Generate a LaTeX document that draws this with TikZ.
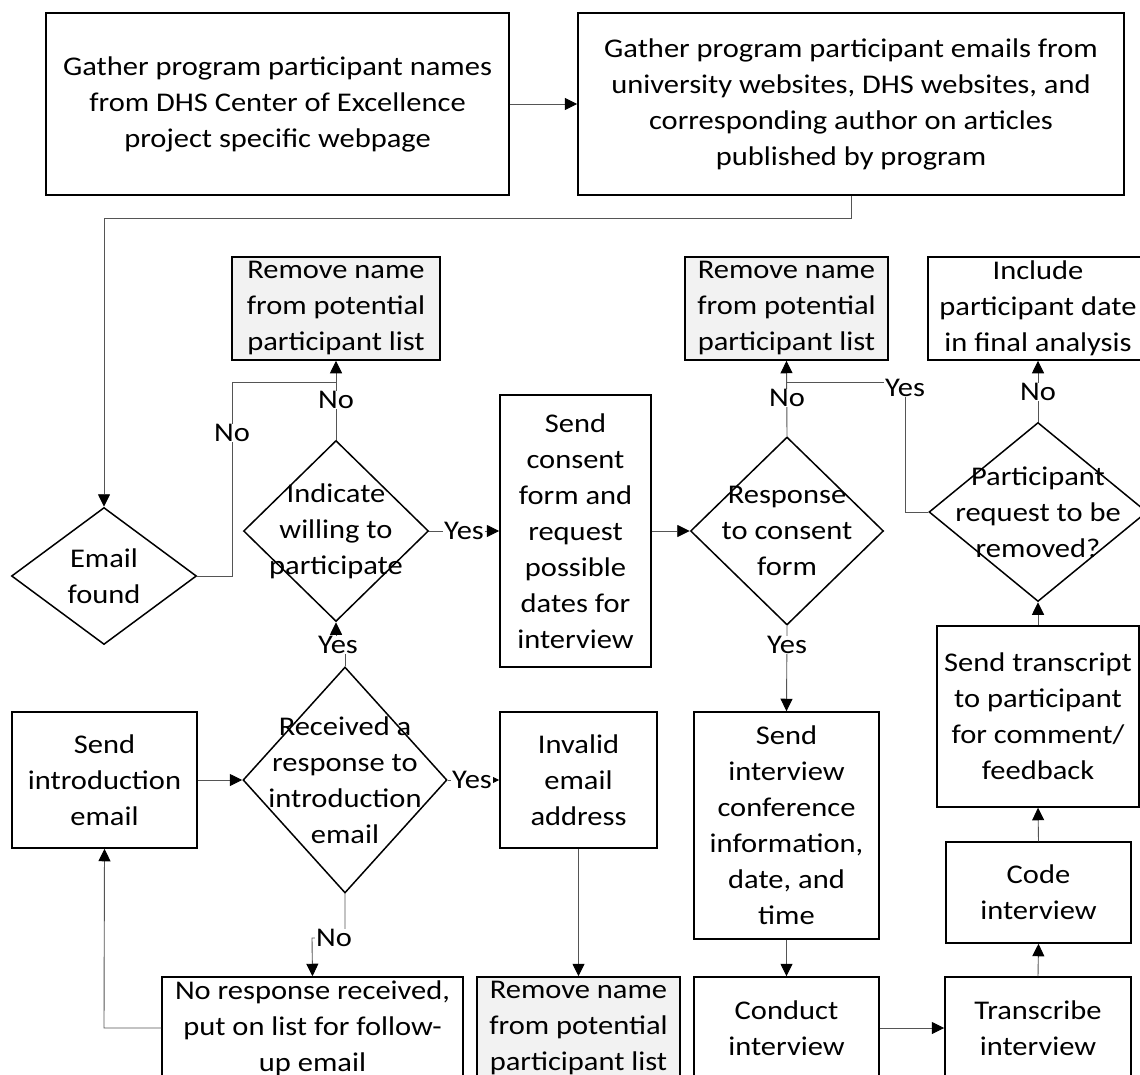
\documentclass[tikz,border=0pt]{standalone}
\usepackage{fontspec}
\setmainfont{Carlito}[FakeStretch=1.13]
\usetikzlibrary{arrows.meta,shapes.geometric}
\definecolor{boxgray}{HTML}{F2F2F2}
\definecolor{linegray}{HTML}{555555}
\begin{document}
\begin{tikzpicture}[x=1pt,y=-1pt,
  every node/.style={font=\fontsize{27}{36}\selectfont, align=center, inner sep=0pt},
  box/.style={draw=black, line width=1.5pt, rectangle},
  greybox/.style={box, fill=boxgray},
  decision/.style={draw=black, line width=1.5pt, diamond},
  txt/.style={fill=none},
  lbl/.style={fill=white, inner xsep=1pt, inner ysep=0pt},
  flow/.style={draw=linegray, line width=0.9pt, -{Triangle[length=12.5pt,width=12pt,color=black]}},
  plain/.style={draw=linegray, line width=0.9pt}]
\useasboundingbox (0,0) rectangle (1140,1075);
\clip (0,0) rectangle (1140,1075);
\fill[white] (0,0) rectangle (1140,1075);

% top row
\node[box, minimum width=463pt, minimum height=182pt] (ga) at (277.5,104)
  {Gather program participant names\\from DHS Center of Excellence\\project specific webpage};
\node[box, minimum width=546pt, minimum height=182pt] (gb) at (851,104)
  {Gather program participant emails from\\university websites, DHS websites, and\\corresponding author on articles\\published by program};

% removal / inclusion boxes
\node[greybox, minimum width=208pt, minimum height=103pt] (r1) at (336,308.5)
  {Remove name\\from potential\\participant list};
\node[greybox, minimum width=203pt, minimum height=103pt] (r2) at (786.5,308.5)
  {Remove name\\from potential\\participant list};
\node[box, minimum width=220pt, minimum height=103pt] (inc) at (1038,308.5)
  {Include\\participant date\\in final analysis};

% decisions
\node[decision, minimum width=185pt, minimum height=137pt] (ef) at (104,576) {};
\node[txt] (eft) at (ef.center) {Email\\found};
\node[decision, minimum width=185pt, minimum height=181pt] (iw) at (336,531) {};
\node[txt] (iwt) at (iw.center) {Indicate\\willing to\\participate};
\node[decision, minimum width=193pt, minimum height=188pt] (rc) at (787,531) {};
\node[txt] (rct) at (rc.center) {Response\\to consent\\form};
\node[decision, minimum width=218pt, minimum height=179pt] (pr) at (1038,512) {};
\node[txt] (prt) at (pr.center) {Participant\\request to be\\removed?};
\node[decision, minimum width=204pt, minimum height=226pt] (rr) at (345,780) {};
\node[txt] (rrt) at (rr.center) {Received a\\response to\\introduction\\email};

% process boxes
\node[box, minimum width=151pt, minimum height=272pt] (cons) at (575.5,531)
  {Send\\consent\\form and\\request\\possible\\dates for\\interview};
\node[box, minimum width=202pt, minimum height=181pt] (st) at (1038,716.5)
  {Send transcript\\to participant\\for comment/\\feedback};
\node[box, minimum width=185pt, minimum height=136pt] (intro) at (104.5,780)
  {Send\\introduction\\email};
\node[box, minimum width=157pt, minimum height=136pt] (inv) at (578.5,780)
  {Invalid\\email\\address};
\node[box, minimum width=185pt, minimum height=227pt] (si) at (786.5,825.5)
  {Send\\interview\\conference\\information,\\date, and\\time};
\node[box, minimum width=185pt, minimum height=101pt] (code) at (1038.5,892.5)
  {Code\\interview};

% bottom row
\node[box, minimum width=301pt, minimum height=102pt] (nr) at (312.5,1028)
  {No response received,\\put on list for follow-\\up email};
\node[greybox, minimum width=203pt, minimum height=102pt] (r3) at (578.5,1028)
  {Remove name\\from potential\\participant list};
\node[box, minimum width=185pt, minimum height=102pt] (cond) at (786.5,1028)
  {Conduct\\interview};
\node[box, minimum width=186pt, minimum height=102pt] (trans) at (1038,1028)
  {Transcribe\\interview};

% connectors
\draw[flow] (ga.east) -- (gb.west);
\coordinate (c1) at (851,218);
\coordinate (c2) at (104,218);
\draw[flow] (gb.south) -- (c1) -- (c2) -- (ef.north);

\coordinate (c3) at (232,576);
\coordinate (c4) at (232,382);
\coordinate (c5) at (336,382);
\draw[plain] (ef.east) -- (c3) -- (c4) -- (c5);
\node[lbl] (l1) at (232,433) {No};
\draw[flow] (iw.north) -- (r1.south);
\node[lbl] (l2) at (336,400) {No};

\draw[flow] (iw.east) -- (cons.west);
\node[lbl] (l3) at (464,531) {Yes};

\coordinate (c6) at (345,645);
\coordinate (c7) at (336,645);
\draw[flow] (rr.north) -- (c6) -- (c7) -- (iw.south);
\node[lbl] (l4) at (338,645) {Yes};

\draw[flow] (intro.east) -- (rr.west);
\draw[flow] (rr.east) -- (inv.west);
\node[lbl] (l5) at (472,780) {Yes};

\coordinate (c8) at (345,938);
\coordinate (c9) at (312,938);
\draw[flow] (rr.south) -- (c8) -- (c9) -- (nr.north);
\node[lbl] (l6) at (334,938) {No};

\coordinate (c10) at (104,1028);
\draw[flow] (nr.west) -- (c10) -- (intro.south);
\draw[flow] (inv.south) -- (r3.north);

\draw[flow] (cons.east) -- (rc.west);
\draw[flow] (rc.north) -- (r2.south);
\node[lbl] (l7) at (787,398) {No};
\draw[flow] (rc.south) -- (si.north);
\node[lbl] (l8) at (787,645) {Yes};
\draw[flow] (si.south) -- (cond.north);
\draw[flow] (cond.east) -- (trans.west);
\draw[flow] (trans.north) -- (code.south);
\draw[flow] (code.north) -- (st.south);
\draw[flow] (st.north) -- (pr.south);
\draw[flow] (pr.north) -- (inc.south);
\node[lbl] (l9) at (1038,392) {No};

\coordinate (c11) at (905,512);
\coordinate (c12) at (905,382);
\coordinate (c13) at (787,382);
\draw[plain] (pr.west) -- (c11) -- (c12) -- (c13);
\node[lbl] (l10) at (905,388) {Yes};
\end{tikzpicture}
\end{document}
